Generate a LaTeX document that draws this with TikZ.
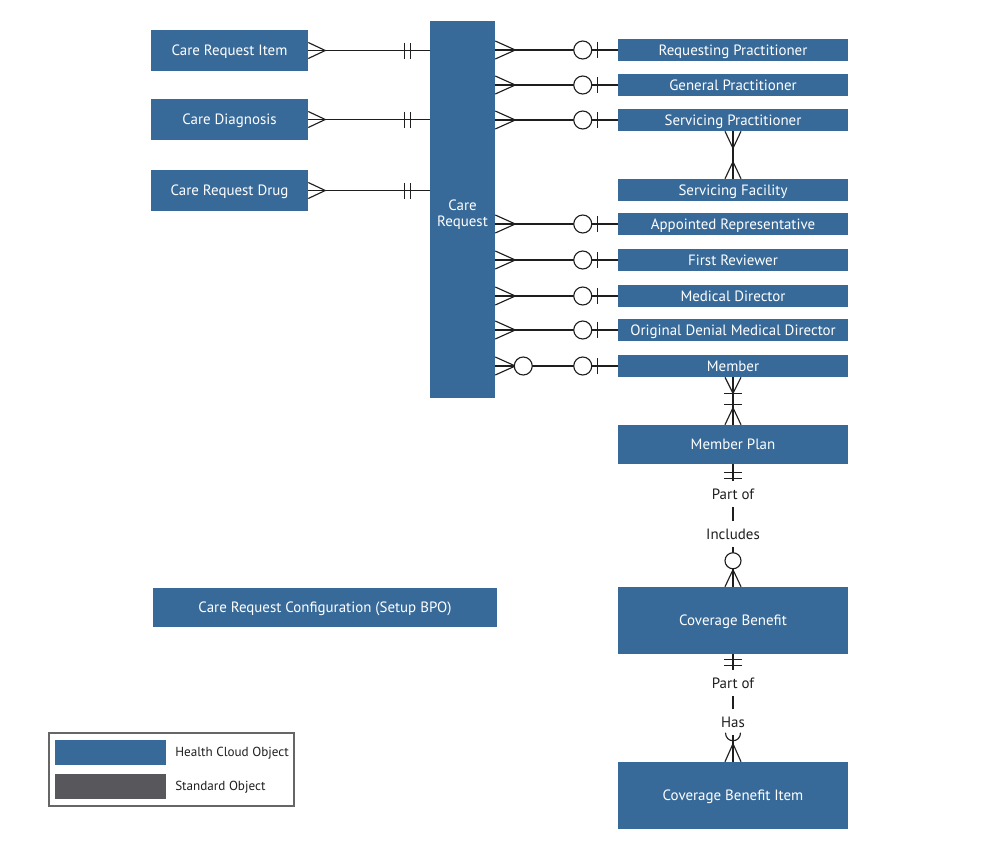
\documentclass[tikz,border=0pt]{standalone}
\usepackage{fontspec}
\setmainfont{PT Sans}
\definecolor{hc}{HTML}{386A99}
\definecolor{so}{HTML}{58575C}
\definecolor{ink}{HTML}{1E1E1E}
\begin{document}
\begin{tikzpicture}[x=0.75pt,y=-0.75pt,
  ent/.style={draw=none, fill=hc, text=white, inner sep=0pt, align=center,
    text height=9.8pt, text depth=2pt,
    font=\fontsize{11.2}{12}\selectfont},
  side/.style={ent, minimum width=117.75pt, minimum height=30.75pt},
  rbox/.style={ent, minimum width=172.5pt, minimum height=16.5pt},
  ln/.style={line width=0.85pt, draw=ink},
  lbl/.style={fill=white, text=ink, inner xsep=2pt, inner ysep=4pt,
    text height=9.5pt, text depth=2pt, font=\fontsize{11.2}{12}\selectfont},
  leg/.style={text=ink, anchor=west, inner sep=0pt, text height=8.8pt, text depth=2pt,
    font=\fontsize{9.85}{10}\selectfont},
  sw/.style={minimum width=83.25pt, minimum height=18.75pt, inner sep=0pt}]
\useasboundingbox (0,0) rectangle (1000,850);

% left entities
\node[side] (cri) at (229.5,50.5) {Care Request Item};
\node[side] (cd)  at (229.5,119.5) {Care Diagnosis};
\node[side] (crd) at (229.5,190.5) {Care Request Drug};
% central entity
\node[ent, minimum width=48.75pt, minimum height=282.75pt] (cr) at (462.5,209.5) {};
\node[text=white, inner sep=0pt, align=center, font=\fontsize{11.2}{12}\selectfont] (crl) at (462.5,215) {Care\\Request};
% right entities
\node[rbox] (rp)   at (733,50)  {Requesting Practitioner};
\node[rbox] (gp)   at (733,85)  {General Practitioner};
\node[rbox] (sp)   at (733,120) {Servicing Practitioner};
\node[rbox] (sf)   at (733,190) {Servicing Facility};
\node[rbox] (ar)   at (733,224) {Appointed Representative};
\node[rbox] (fr)   at (733,260) {First Reviewer};
\node[rbox] (md)   at (733,296) {Medical Director};
\node[rbox] (odmd) at (733,330) {Original Denial Medical Director};
\node[rbox] (mem)  at (733,366) {Member};
\node[ent, minimum width=172.5pt, minimum height=29.25pt] (mp)  at (733,444.5) {Member Plan};
\node[ent, minimum width=172.5pt, minimum height=50.25pt] (cb)  at (733,620.5) {Coverage Benefit};
\node[ent, minimum width=172.5pt, minimum height=50.25pt] (cbi) at (733,795.5) {Coverage Benefit Item};
\node[ent, minimum width=258pt, minimum height=29.25pt] (crc) at (325,607.5) {Care Request Configuration (Setup BPO)};

% left connectors
\foreach \n in {cri,cd,crd}{
  \draw[ln] (\n.east) -- (\n.east -| cr.west);
  \draw[ln] (\n.east) ++(0,-8) -- ++(17,8) -- ++(-17,8);
  \draw[ln] (\n.east -| cr.west) ++(-25,-8) -- ++(0,16) ++(6,0) -- ++(0,-16);
}
% right connectors
\foreach \n in {rp,gp,sp,ar,fr,md,odmd,mem}{
  \draw[ln] (cr.east |- \n.west) -- (\n.west);
  \draw[ln] (cr.east |- \n.west) ++(0,-9) -- ++(20,9) -- ++(-20,9);
  \draw[ln] (\n.west) ++(-20,-8) -- ++(0,16);
  \draw[ln, fill=white] (\n.west) ++(-35,0) circle[radius=6.75pt];
}
\draw[ln, fill=white] (cr.east |- mem.west) ++(28,0) circle[radius=6.75pt];

% servicing practitioner - servicing facility
\draw[ln] (sp.south) -- (sf.north);
\draw[ln] (sp.south) ++(-8,0) -- ++(8,17) -- ++(8,-17);
\draw[ln] (sf.north) ++(-8,0) -- ++(8,-17) -- ++(8,17);

% member - member plan
\draw[ln] (mem.south) -- (mp.north);
\draw[ln] (mem.south) ++(-8,0) -- ++(8,16) -- ++(8,-16);
\draw[ln] (mem.south) ++(-9,16) -- ++(18,0);
\draw[ln] (mp.north) ++(-9,-20) -- ++(18,0);
\draw[ln] (mp.north) ++(-8,0) -- ++(8,-17) -- ++(8,17);

% member plan - coverage benefit
\draw[ln] (mp.south) -- (cb.north);
\draw[ln] (mp.south) ++(-9,8) -- ++(18,0) ++(0,6) -- ++(-18,0);
\node[lbl] (po1) at (733,494) {Part of};
\node[lbl] (inc) at (733,534) {Includes};
\draw[ln, fill=white] (cb.north) ++(0,-26) circle[radius=6pt];
\draw[ln] (cb.north) ++(-8,0) -- ++(8,-17) -- ++(8,17);

% coverage benefit - coverage benefit item
\draw[ln] (cb.south) -- (cbi.north);
\draw[ln] (cb.south) ++(-9,5) -- ++(18,0) ++(0,6) -- ++(-18,0);
\node[lbl] (po2) at (733,683) {Part of};
\node[lbl] (has) at (733,722) {Has};
\draw[ln] (cbi.north) ++(-8,0) -- ++(8,-18) -- ++(8,18);
\draw[ln] (cbi.north) ++(-7.5,-29) .. controls ++(0,5) and ++(-4,0) .. ++(7.5,8)
  .. controls ++(4,0) and ++(0,5) .. ++(7.5,-8);

% legend
\node[draw=gray!80!black, line width=0.8pt, minimum width=183.75pt, minimum height=54.75pt, inner sep=0pt] (legend) at (171.5,769.5) {};
\node[sw, fill=hc] (sw1) at (110.5,752.5) {};
\node[sw, fill=so] (sw2) at (110.5,786) {};
\node[leg] (t1) at (175,752) {Health Cloud Object};
\node[leg] (t2) at (175,785.5) {Standard Object};
\end{tikzpicture}
\end{document}
